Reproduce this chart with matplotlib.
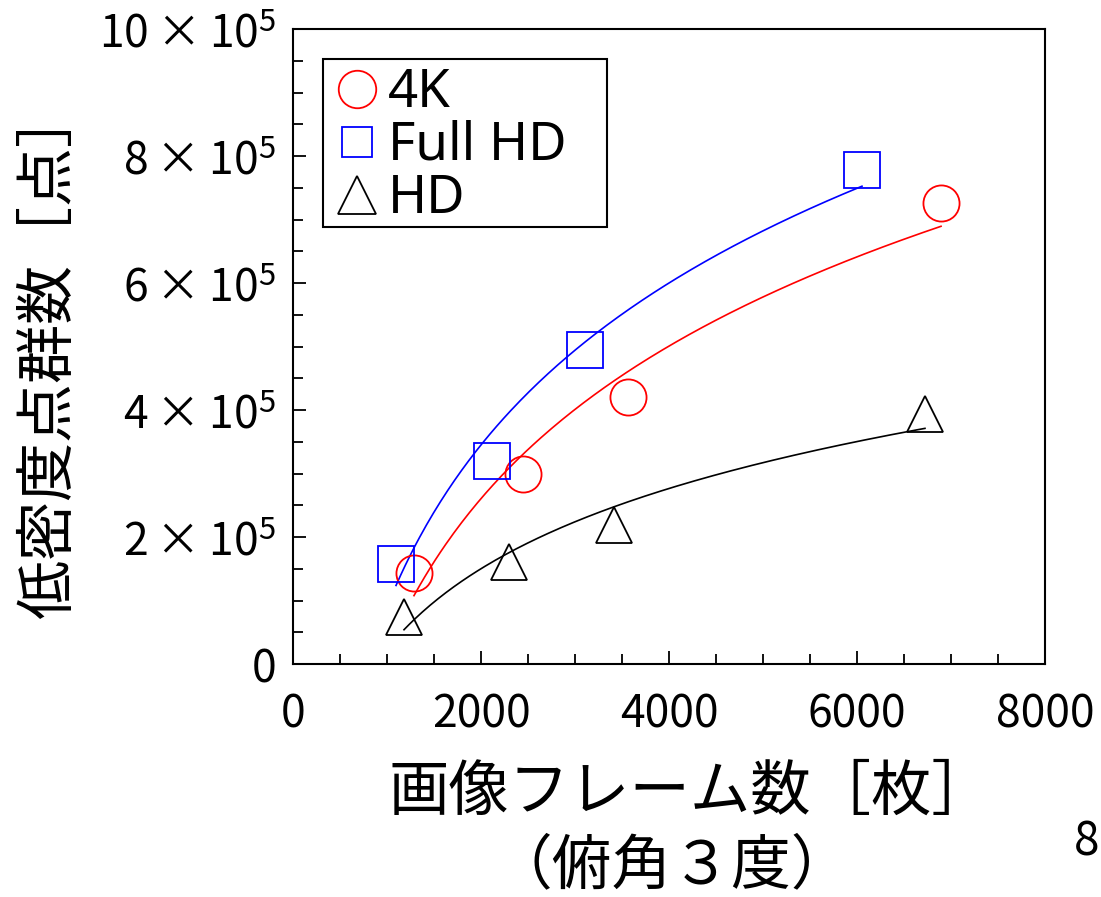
import numpy as np
import matplotlib
matplotlib.use("Agg")
import matplotlib.pyplot as plt
from matplotlib.font_manager import FontProperties
from matplotlib.patches import Rectangle

plt.rcParams['font.family'] = ['Noto Sans CJK JP', 'DejaVu Sans']
plt.rcParams['mathtext.fontset'] = 'custom'
plt.rcParams['mathtext.rm'] = 'Noto Sans CJK JP'
plt.rcParams['mathtext.it'] = 'Noto Sans CJK JP'
plt.rcParams['mathtext.bf'] = 'Noto Sans CJK JP'

# frame counts [frames] and low-density point counts [points]
frames_4k = [1287, 2447, 3564, 6894]
points_4k = [1.43e5, 2.99e5, 4.20e5, 7.26e5]
frames_fhd = [1096, 2117, 3106, 6053]
points_fhd = [1.57e5, 3.20e5, 4.94e5, 7.78e5]
frames_hd = [1181, 2298, 3415, 6723]
points_hd = [0.74e5, 1.61e5, 2.19e5, 3.94e5]

series_labels = ['4K', 'Full HD', 'HD']
x_ticks = [0, 2000, 4000, 6000, 8000]
x_ticklabels = ['0', '2000', '4000', '6000', '8000']
y_ticks = [0, 2e5, 4e5, 6e5, 8e5, 10e5]
y_ticklabels = ['0', r'$\mathregular{2\times10^5}$', r'$\mathregular{4\times10^5}$',
                r'$\mathregular{6\times10^5}$', r'$\mathregular{8\times10^5}$',
                r'$\mathregular{10\times10^5}$']

W, H = 1101, 897
fig = plt.figure(figsize=(W / 100, H / 100), dpi=100)
ax = fig.add_axes([293 / W, 1 - 664 / H, (1045 - 293) / W, (664 - 29) / H])


def log_fit(x, y, n=200):
    """Least-squares fit y = a*ln(x) + c, evaluated over the data's x range."""
    x = np.asarray(x, float)
    y = np.asarray(y, float)
    a, c = np.polyfit(np.log(x), y, 1)
    xs = np.linspace(x.min(), x.max(), n)
    return xs, a * np.log(xs) + c


styles = [
    (frames_4k, points_4k, 'o', '#ff0000'),
    (frames_fhd, points_fhd, 's', '#0000ff'),
    (frames_hd, points_hd, '^', '#000000'),
]

handles = []
for (fx, fy, mk, col), lab in zip(styles, series_labels):
    xs, ys = log_fit(fx, fy)
    ax.plot(xs, ys, color=col, lw=1.2, zorder=2)
    h, = ax.plot(fx, fy, linestyle='none', marker=mk, markersize=26,
                 markerfacecolor='none', markeredgecolor=col,
                 markeredgewidth=1.3, label=lab, zorder=3)
    handles.append(h)

ax.set_xlim(0, 8000)
ax.set_ylim(0, 10e5)
ax.set_xticks(x_ticks)
ax.set_xticklabels(x_ticklabels)
ax.set_yticks(y_ticks)
ax.set_yticklabels(y_ticklabels)
ax.set_xticks(np.arange(0, 8001, 500), minor=True)
ax.set_yticks(np.arange(0, 10e5 + 1, 0.5e5), minor=True)
ax.tick_params(which='both', direction='in', width=1.3, colors='black')
ax.tick_params(which='major', length=9.5)
ax.tick_params(which='minor', length=7)
ax.tick_params(axis='x', which='major', labelsize=32, pad=20)
ax.tick_params(axis='y', which='major', labelsize=32, pad=12)
for s in ax.spines.values():
    s.set_linewidth(1.5)

# legend entries (no frame); the box around them is drawn separately
legend_font = FontProperties(family=['Noto Sans', 'DejaVu Sans'], size=38)
leg = ax.legend(handles=handles, loc='upper left',
                bbox_to_anchor=(333 / W, 1 - 67 / H),
                bbox_transform=fig.transFigure,
                borderaxespad=0, prop=legend_font, frameon=False,
                handlelength=0.92, handletextpad=0.12,
                labelspacing=0.0, borderpad=0.0, markerscale=1.0)
for lh, ms in zip(leg.legend_handles, [27, 22, 27]):
    lh.set_markersize(ms)
ax.add_patch(Rectangle((323 / W, 1 - 227 / H), (607 - 323) / W, (227 - 59) / H,
                       transform=fig.transFigure, fill=False, edgecolor='black',
                       linewidth=1.5, zorder=4, clip_on=False))

fig.text(50 / W, 1 - 352 / H, '低密度点群数［点］', rotation=90,
         ha='center', va='center', fontsize=42.5)
fig.text(690 / W, 1 - 792 / H, '画像フレーム数［枚］', ha='center', va='center',
         fontsize=43.5)
fig.text(672 / W, 1 - 867 / H, '（俯角３度）', ha='center', va='center',
         fontsize=43)
fig.text(1099 / W, 1 - 842 / H, '8', ha='right', va='center', fontsize=33)

fig.savefig('out.png', dpi=100)
